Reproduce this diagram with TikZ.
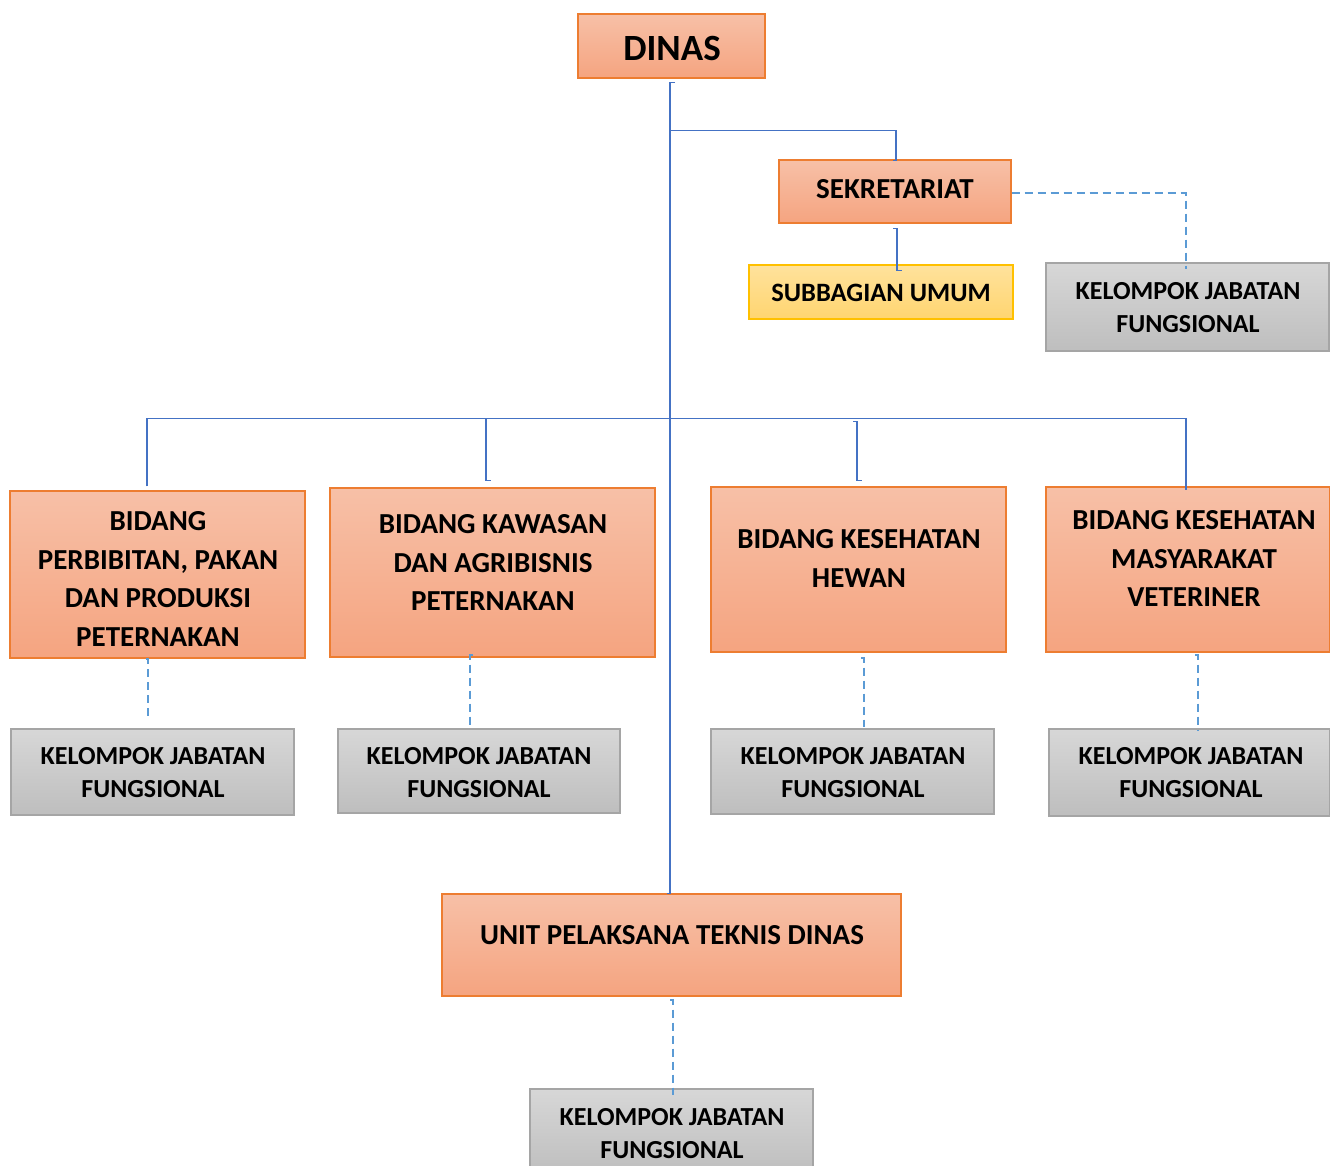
\documentclass[tikz,border=0pt]{standalone}
\usepackage{fontspec}
\setmainfont{Carlito}
\usetikzlibrary{calc}

\definecolor{oline}{RGB}{237,125,49}
\definecolor{otop}{RGB}{247,192,167}
\definecolor{obot}{RGB}{245,164,128}
\definecolor{gline}{RGB}{165,165,165}
\definecolor{gtop}{RGB}{215,215,215}
\definecolor{gbot}{RGB}{190,190,190}
\definecolor{yline}{RGB}{255,192,0}
\definecolor{ytop}{RGB}{255,226,156}
\definecolor{ybot}{RGB}{255,213,112}
\definecolor{solidblue}{RGB}{68,114,196}
\definecolor{dashblue}{RGB}{91,155,213}

\tikzset{
  obox/.style={rectangle, draw=oline, line width=1.4pt, top color=otop, bottom color=obot, inner sep=0pt},
  gbox/.style={rectangle, draw=gline, line width=1.4pt, top color=gtop, bottom color=gbot, inner sep=0pt},
  ybox/.style={rectangle, draw=yline, line width=1.2pt, top color=ytop, bottom color=ybot, inner sep=0pt},
  lbl/.style={align=center, inner sep=0pt, font=\bfseries\fontsize{29}{38.7}\selectfont},
  klbl/.style={align=center, inner sep=0pt, font=\bfseries\fontsize{26}{33}\selectfont},
  conn/.style={draw=solidblue, line width=1.3pt},
  dconn/.style={draw=dashblue, line width=1.9pt, dash pattern=on 8pt off 5pt},
}

\begin{document}
\begin{tikzpicture}[x=1pt, y=-1pt]
\useasboundingbox[fill=white] (0,0) rectangle (1330,1165);

% ---- boxes ----
\node[obox, minimum width=187, minimum height=64]  (dinas) at (671.5,46) {};
\node[obox, minimum width=232, minimum height=63]  (sek)   at (895,191.5) {};
\node[ybox, minimum width=264, minimum height=54]  (sub)   at (881,292) {};
\node[gbox, minimum width=283, minimum height=88]  (k0)    at (1187.5,307) {};

\node[obox, minimum width=295, minimum height=167] (b1) at (157.5,574.5) {};
\node[obox, minimum width=325, minimum height=169] (b2) at (492.5,572.5) {};
\node[obox, minimum width=295, minimum height=165] (b3) at (858.5,569.5) {};
\node[obox, minimum width=284, minimum height=165] (b4) at (1188,569.5) {};

\node[gbox, minimum width=283, minimum height=86] (k1) at (152.5,772) {};
\node[gbox, minimum width=282, minimum height=84] (k2) at (479,771) {};
\node[gbox, minimum width=283, minimum height=85] (k3) at (852.5,771.5) {};
\node[gbox, minimum width=281, minimum height=87] (k4) at (1189.5,772.5) {};

\node[obox, minimum width=459, minimum height=102] (uptd) at (671.5,945) {};
\node[gbox, minimum width=283, minimum height=86]  (k5)   at (671.5,1132) {};

% ---- texts ----
\node[lbl, font=\bfseries\fontsize{37}{44}\selectfont] (dinas-t) at (672,48) {DINAS};
\node[lbl] (sek-t) at (895,189) {SEKRETARIAT};
\node[klbl, font=\bfseries\fontsize{26.5}{33}\selectfont] (sub-t) at (881,293) {SUBBAGIAN UMUM};
\node[klbl] (k0-t) at (1188,307.5) {KELOMPOK JABATAN\\FUNGSIONAL};

\node[lbl] (b1-t) at (158,579) {BIDANG\\PERBIBITAN, PAKAN\\DAN PRODUKSI\\PETERNAKAN};
\node[lbl] (b2-t) at (493,562.5) {BIDANG KAWASAN\\DAN AGRIBISNIS\\PETERNAKAN};
\node[lbl] (b3-t) at (859,558.5) {BIDANG KESEHATAN\\HEWAN};
\node[lbl] (b4-t) at (1194,558.5) {BIDANG KESEHATAN\\MASYARAKAT\\VETERINER};

\node[klbl] (k1-t) at (153,773) {KELOMPOK JABATAN\\FUNGSIONAL};
\node[klbl] (k2-t) at (479,773) {KELOMPOK JABATAN\\FUNGSIONAL};
\node[klbl] (k3-t) at (853,773) {KELOMPOK JABATAN\\FUNGSIONAL};
\node[klbl] (k4-t) at (1191,773) {KELOMPOK JABATAN\\FUNGSIONAL};

\node[lbl] (uptd-t) at (672,935) {UNIT PELAKSANA TEKNIS DINAS};
\node[klbl] (k5-t) at (672,1133.5) {KELOMPOK JABATAN\\FUNGSIONAL};

% ---- solid connectors ----
% main trunk from DINAS down to UPTD
\draw[conn] ($(dinas.south)+(3.5,4)$) -- ++(-5,0) -- ($(uptd.north)+(-1.5,0)$) -- ++(-3,0);
% branch to SEKRETARIAT
\draw[conn] ($(dinas.south)+(-1.5,52)$) -| ($(sek.north)+(1,1)$) -- ++(-3,0);
% SEKRETARIAT to SUBBAGIAN UMUM
\draw[conn] ($(sek.south)+(-2,5)$) -- ++(4,0) |- ($(sub.north)+(21,6)$);
% horizontal bar over the four bidang
\draw[conn] ($(b1.north)+(-10.5,-4)$) |- ($(b4.north)+(-2,-68)$) -- ++(0,72);
\draw[conn] ($(b2.north)+(-6.5,-69)$) -- ++(0,62) -- ++(5,0);
\draw[conn] ($(b3.north)+(-5.5,-65)$) -- ++(4,0) -- ++(0,59) -- ++(5,0);

% ---- dashed connectors ----
\draw[dconn] ($(sek.east)+(0,1.5)$) -| ($(k0.north)+(-1.5,7)$);
\draw[dconn] ($(b1.south)+(-12,0)$) -- ++(2.5,0) -- ($(k1.north)+(-4.5,-12)$);
\draw[dconn] ($(b2.south)+(-19.5,-3)$) -- ++(-3,0) -- ($(k2.north)+(-9,-1)$);
\draw[dconn] ($(b3.south)+(2.5,5)$) -- ++(3,0) -- ($(k3.north)+(11.5,-1)$);
\draw[dconn] ($(b4.south)+(7,2)$) -- ++(3,0) -- ($(k4.north)+(8.5,3)$);
\draw[dconn] ($(uptd.south)+(-1.5,3)$) -- ++(3,0) -- ($(k5.north)+(1.5,6)$) -- ++(3,0);
\end{tikzpicture}
\end{document}
